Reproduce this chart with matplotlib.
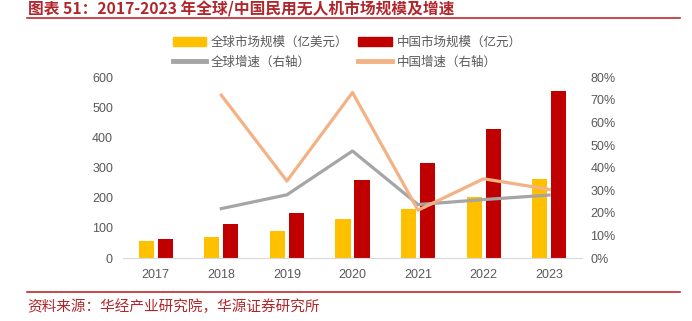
import matplotlib
matplotlib.use("Agg")
import matplotlib.pyplot as plt
from matplotlib.patches import Patch
from matplotlib.lines import Line2D
from matplotlib.ticker import FuncFormatter
import numpy as np

plt.rcParams['font.family'] = ['Noto Sans CJK SC', 'DejaVu Sans']

years = ['2017', '2018', '2019', '2020', '2021', '2022', '2023']
global_size = [57, 70, 89, 130, 162, 204, 263]
china_size = [62, 112, 150, 259, 315, 428, 555]
global_growth_years = ['2018', '2019', '2020', '2021', '2022', '2023']
global_growth = [0.219, 0.280, 0.474, 0.237, 0.259, 0.279]
china_growth = [0.721, 0.341, 0.733, 0.212, 0.351, 0.304]

c_yellow = '#FFC000'
c_red = '#C00000'
c_gray = '#A5A5A5'
c_orange = '#F4B183'
c_text = '#595959'
c_title = '#B1262B'
tick_font = ['Liberation Sans', 'DejaVu Sans']

fig = plt.figure(figsize=(6.92, 3.21), dpi=100)
ax = fig.add_axes([0.1777, 0.196, 0.841 - 0.1777, 0.759 - 0.196])
x = np.arange(len(years))
w = 0.23
off = 0.145
ax.bar(x - off, global_size, width=w, color=c_yellow, zorder=2)
ax.bar(x + off, china_size, width=w, color=c_red, zorder=2)
ax.set_xlim(-0.5, len(years) - 0.5)
ax.set_ylim(0, 600)
ax.set_yticks(range(0, 601, 100))
ax.set_xticks(x)
ax.set_xticklabels(years)
for s in ['top', 'right', 'left']:
    ax.spines[s].set_visible(False)
ax.spines['bottom'].set_color('#D9D9D9')
ax.tick_params(axis='both', length=0, labelsize=9, colors=c_text)
ax.tick_params(axis='x', pad=8)
ax.tick_params(axis='y', pad=7.2)
for t in ax.get_xticklabels() + ax.get_yticklabels():
    t.set_family(tick_font)

ax2 = ax.twinx()
gx = [years.index(y) for y in global_growth_years]
ax2.plot(gx, global_growth, color=c_gray, lw=2.3, zorder=3)
ax2.plot(gx, china_growth, color=c_orange, lw=2.3, zorder=3)
ax2.set_ylim(0, 0.8)
ax2.set_yticks(np.arange(0, 0.81, 0.1))
ax2.yaxis.set_major_formatter(FuncFormatter(lambda v, p: f"{v*100:.0f}%"))
for s in ['top', 'right', 'left', 'bottom']:
    ax2.spines[s].set_visible(False)
ax2.tick_params(axis='y', length=0, labelsize=9, colors=c_text, pad=6)
for t in ax2.get_yticklabels():
    t.set_family(tick_font)

handles = [
    Patch(color=c_yellow, label='全球市场规模（亿美元）'),
    Line2D([], [], color=c_gray, lw=3.5, label='全球增速（右轴）'),
    Patch(color=c_red, label='中国市场规模（亿元）'),
    Line2D([], [], color=c_orange, lw=3.5, label='中国增速（右轴）'),
]
leg = fig.legend(handles=handles, ncol=2, loc='center',
                 bbox_to_anchor=(347 / 692, 1 - 52.2 / 321), frameon=False,
                 fontsize=9, handlelength=2.7, handleheight=0.7,
                 handletextpad=0.35, columnspacing=0.8, labelspacing=0.5,
                 borderpad=0.2)
for t in leg.get_texts():
    t.set_color(c_text)

fig.text(28 / 692, 1 - 9 / 321, '图表 51：2017-2023 年全球/中国民用无人机市场规模及增速',
         color=c_title, fontsize=11.3, fontweight='bold', va='center', ha='left')
fig.add_artist(Line2D([27 / 692, 680 / 692], [1 - 17.5 / 321, 1 - 17.5 / 321],
                      color='#C0282D', lw=1.2, transform=fig.transFigure))
fig.add_artist(Line2D([27 / 692, 680 / 692], [1 - 292 / 321, 1 - 292 / 321],
                      color='#C0282D', lw=1.2, transform=fig.transFigure))
fig.text(27 / 692, 1 - 307 / 321, '资料来源：华经产业研究院，华源证券研究所',
         color=c_title, fontsize=10.5, va='center', ha='left')

fig.savefig('out.png', dpi=100)
